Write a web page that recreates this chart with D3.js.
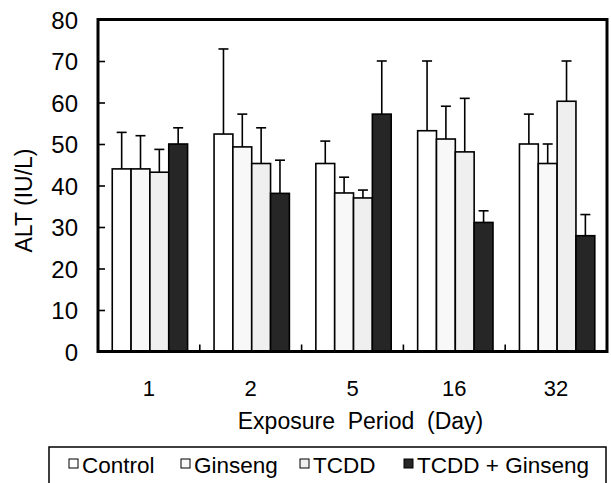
<!DOCTYPE html>
<html>
<head>
<meta charset="utf-8">
<script src="https://cdn.jsdelivr.net/npm/d3@7"></script>
<style>
    body { margin: 0; background: #fff; }
    text { font-family: "Liberation Sans", Arial, sans-serif; fill: #000; }
</style>
</head>
<body>
<div id="chart"></div>
<script>
const days = ["1", "2", "5", "16", "32"];
const seriesNames = ["Control", "Ginseng", "TCDD", "TCDD + Ginseng"];
const controlMean = [44, 52.4, 45.3, 53.2, 50];
const controlSd = [8.8, 20.5, 5.4, 16.8, 7.2];
const ginsengMean = [44, 49.3, 38.2, 51.2, 45.3];
const ginsengSd = [8, 7.9, 3.8, 7.9, 4.7];
const tcddMean = [43.2, 45.3, 37, 48.1, 60.3];
const tcddSd = [5.5, 8.6, 1.9, 12.9, 9.7];
const tcddGinsengMean = [50, 38.1, 57.2, 31.1, 27.9];
const tcddGinsengSd = [3.9, 8, 12.8, 2.8, 5.1];
const yTicks = [0, 10, 20, 30, 40, 50, 60, 70, 80];

const fills = ["#ffffff", "#f8f8f8", "#efefef", "#262626"];
const means = [controlMean, ginsengMean, tcddMean, tcddGinsengMean];
const sds = [controlSd, ginsengSd, tcddSd, tcddGinsengSd];

const margin = { top: 19.5, right: 4, bottom: 131.5, left: 98 };
const width = 611 - margin.left - margin.right;
const height = 483 - margin.top - margin.bottom;

const svg = d3.select("#chart")
    .append("svg")
    .attr("width", 611)
    .attr("height", 483)
    .append("g")
    .attr("transform", `translate(${margin.left},${margin.top})`);

const data = [];
days.forEach((day, i) => {
    seriesNames.forEach((name, j) => {
        data.push({ day: day, series: name, mean: means[j][i], sd: sds[j][i], fill: fills[j] });
    });
});

const x0 = d3.scaleBand().domain(days).range([0, width]);
const x1 = d3.scaleBand().domain(seriesNames)
    .range([x0.bandwidth() * 0.14, x0.bandwidth() * 0.88]);
const y = d3.scaleLinear().domain([0, 80]).range([height, 0]);

// bars
svg.selectAll(".bar").data(data).enter()
    .append("rect")
    .attr("class", "bar")
    .attr("x", d => x0(d.day) + x1(d.series))
    .attr("y", d => y(d.mean))
    .attr("width", x1.bandwidth())
    .attr("height", d => height - y(d.mean))
    .attr("fill", d => d.fill)
    .attr("stroke", "#000")
    .attr("stroke-width", 1.6);

// error bars (upper only)
const errs = svg.selectAll(".err").data(data).enter().append("g").attr("class", "err");
errs.append("line")
    .attr("x1", d => x0(d.day) + x1(d.series) + x1.bandwidth() / 2)
    .attr("x2", d => x0(d.day) + x1(d.series) + x1.bandwidth() / 2)
    .attr("y1", d => y(d.mean))
    .attr("y2", d => y(d.mean + d.sd))
    .attr("stroke", "#000")
    .attr("stroke-width", 1.6);
errs.append("line")
    .attr("x1", d => x0(d.day) + x1(d.series) + x1.bandwidth() / 2 - 5)
    .attr("x2", d => x0(d.day) + x1(d.series) + x1.bandwidth() / 2 + 5)
    .attr("y1", d => y(d.mean + d.sd))
    .attr("y2", d => y(d.mean + d.sd))
    .attr("stroke", "#000")
    .attr("stroke-width", 1.6);

// y axis, ticks pointing inside
const yAxis = d3.axisLeft(y).tickValues(yTicks).tickSize(-7).tickPadding(20);
const gy = svg.append("g").call(yAxis);
gy.select(".domain").remove();
gy.selectAll(".tick line").attr("stroke-width", 1.6)
    .filter(d => d === 0 || d === 80).remove();
gy.selectAll(".tick text")
    .style("font-size", "24px")
    .attr("x", -20)
    .attr("dy", "0.36em");

// x axis ticks between groups
const boundaries = days.slice(1).map(d => x0(d));
svg.selectAll(".xtick").data(boundaries).enter()
    .append("line")
    .attr("x1", d => d).attr("x2", d => d)
    .attr("y1", height).attr("y2", height - 7)
    .attr("stroke", "#000")
    .attr("stroke-width", 1.6);

svg.selectAll(".xlabel").data(days).enter()
    .append("text")
    .attr("x", d => x0(d) + x0.bandwidth() / 2)
    .attr("y", height + 44)
    .attr("text-anchor", "middle")
    .style("font-size", "22px")
    .text(d => d);

// plot frame
svg.append("rect")
    .attr("x", 0).attr("y", 0)
    .attr("width", width).attr("height", height)
    .attr("fill", "none")
    .attr("stroke", "#000")
    .attr("stroke-width", 3);

// axis titles
svg.append("text")
    .attr("x", width / 2 + 8)
    .attr("y", height + 77)
    .attr("text-anchor", "middle")
    .style("font-size", "23px")
    .style("white-space", "pre")
    .text("Exposure  Period  (Day)");

svg.append("text")
    .attr("transform", "rotate(-90)")
    .attr("x", -181)
    .attr("y", -66)
    .attr("text-anchor", "middle")
    .style("font-size", "23px")
    .text("ALT (IU/L)");

// legend
const legend = d3.select("svg").append("g");
legend.append("rect")
    .attr("x", 49).attr("y", 447)
    .attr("width", 557).attr("height", 60)
    .attr("fill", "none")
    .attr("stroke", "#000")
    .attr("stroke-width", 1.5);

const legendX = [69, 181, 300, 404];
seriesNames.forEach((name, i) => {
    legend.append("rect")
        .attr("x", legendX[i]).attr("y", 459)
        .attr("width", 9).attr("height", 9)
        .attr("fill", fills[i])
        .attr("stroke", "#000")
        .attr("stroke-width", 1);
    legend.append("text")
        .attr("x", legendX[i] + 13)
        .attr("y", 473)
        .style("font-size", "22.5px")
        .text(name);
});
</script>
</body>
</html>
